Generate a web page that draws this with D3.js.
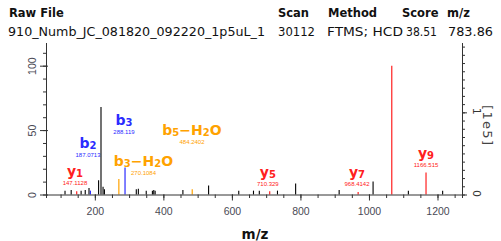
<!DOCTYPE html>
<html>
<head>
<meta charset="utf-8">
<script src="https://cdn.jsdelivr.net/npm/d3@7"></script>
<style>
  body { margin: 0; background: #fff; }
  svg { display: block; }
  .hdr { font-family: "DejaVu Sans", Verdana, sans-serif; font-size: 11.5px; fill: #111; }
  .hdr.b { font-weight: bold; }
  .tick text { font-family: "Liberation Sans", Arial, sans-serif; font-size: 10.5px; fill: #4a4a55; }
  .rlab { font-family: "DejaVu Sans", sans-serif; font-size: 11px; fill: #333; }
  .ion { font-family: "DejaVu Sans", sans-serif; font-weight: bold; }
  .mass { font-family: "Liberation Sans", Arial, sans-serif; font-size: 6px; }
</style>
</head>
<body>
<svg id="svg" width="501" height="241"></svg>
<script>
// header table
const headNames = ["Raw File", "Scan", "Method", "Score", "m/z"];
const headValues = ["910_Numb_JC_081820_092220_1p5uL_1", "30112", "FTMS; HCD", "38.51", "783.86"];

// unlabeled (black) peaks: m/z and relative abundance (%)
const otherMz  = [113, 131, 160, 172, 183, 211, 218, 224, 228, 321, 327, 350, 368, 372, 376, 457, 532, 620, 663, 680, 733, 786, 913, 1012, 1115, 1215];
const otherInt = [3, 3.5, 3, 3.5, 5, 11, 68, 6, 4, 4, 4.5, 3, 3, 3.5, 3, 3.5, 7, 3, 3, 3, 3, 8.5, 3.5, 10, 3, 3];

// base peak (red, no label)
const baseMz  = [1066.5];
const baseInt = [100];

// annotated fragment ions
const ionName   = ["y1", "b2", "b3−H2O", "b3", "b5−H2O", "y5", "y7", "y9"];
const ionType   = ["y", "b", "bw", "b", "bw", "y", "y", "y"];
const ionMz     = [147.1128, 187.0713, 270.1084, 288.119, 484.2402, 710.329, 968.4142, 1166.515];
const ionInt    = [2.5, 3, 12, 21, 4, 2.5, 2, 17];
// where each annotation sits (in m/z, % units)
const labelMz   = [142, 180, 342, 285, 483.5, 705, 965, 1166.5];
const labelInt  = [14.4, 36.1, 22.1, 53.6, 46.2, 13.6, 13.6, 28.3];

// right axis (absolute intensity, x1e5)
const rightTicks = [0, 1];

const typeColor = { y: "#ff2020", b: "#2b2bff", bw: "#ffa200" };

const svg = d3.select("#svg");

// header
const headX = [9, 278, 328, 402, 447];
svg.selectAll("text.hn").data(headNames).enter().append("text")
  .attr("class", "hdr b hn").attr("x", (d, i) => headX[i]).attr("y", 17).text(d => d);
const valX = [8, 278, 327, 406, 448];
const valLen = [257, 37, 76, 31, 45];
svg.selectAll("text.hv").data(headValues).enter().append("text")
  .attr("class", "hdr hv").attr("x", (d, i) => valX[i]).attr("y", 35.5)
  .attr("textLength", (d, i) => valLen[i]).attr("lengthAdjust", "spacingAndGlyphs")
  .style("font-size", "12px").text(d => d);

// scales
const x = d3.scaleLinear().domain([57.5, 1271.5]).range([46, 462]);
const y = d3.scaleLinear().domain([0, 118]).range([194.5, 42.5]);
const yR = d3.scaleLinear().domain([0, 1.85]).range([194.5, 42.5]);

// peaks
const g = svg.append("g");
g.selectAll("line.other").data(otherMz).enter().append("line")
  .attr("x1", d => x(d)).attr("x2", d => x(d))
  .attr("y1", y(0)).attr("y2", (d, i) => y(otherInt[i]))
  .attr("stroke", "#000").attr("stroke-width", 1.1);
g.selectAll("line.base").data(baseMz).enter().append("line")
  .attr("x1", d => x(d)).attr("x2", d => x(d))
  .attr("y1", y(0)).attr("y2", (d, i) => y(baseInt[i]))
  .attr("stroke", "#ff3030").attr("stroke-width", 1.3);
g.selectAll("line.ion").data(ionMz).enter().append("line")
  .attr("x1", d => x(d)).attr("x2", d => x(d))
  .attr("y1", y(0)).attr("y2", (d, i) => y(ionInt[i]))
  .attr("stroke", (d, i) => typeColor[ionType[i]]).attr("stroke-width", 1.2);

// axes
const axisColor = "#333";
const xMinor = d3.range(100, 1251, 50);
svg.append("g").attr("transform", `translate(0,${y(0)})`)
  .call(d3.axisBottom(x).tickValues(xMinor).tickSize(3.5).tickFormat(""))
  .call(a => a.select(".domain").attr("stroke", axisColor))
  .call(a => a.selectAll(".tick line").attr("stroke", axisColor));
svg.append("g").attr("transform", `translate(0,${y(0)})`)
  .call(d3.axisBottom(x).tickValues([200, 400, 600, 800, 1000, 1200]).tickSize(6)
    .tickSizeOuter(0).tickPadding(7).tickFormat(d3.format("d")))
  .call(a => a.select(".domain").remove())
  .call(a => a.selectAll(".tick line").attr("stroke", axisColor));

svg.append("g").attr("transform", `translate(${x.range()[0]},0)`)
  .call(d3.axisLeft(y).tickValues(d3.range(0, 111, 10)).tickSize(3).tickFormat("").tickSizeOuter(0))
  .call(a => a.select(".domain").attr("stroke", axisColor))
  .call(a => a.selectAll(".tick line").attr("stroke", axisColor));
svg.append("g").attr("transform", `translate(${x.range()[0]},0)`)
  .call(d3.axisLeft(y).tickValues([0, 50, 100]).tickSize(6))
  .call(a => a.select(".domain").remove())
  .call(a => a.selectAll(".tick line").attr("stroke", axisColor).attr("x2", 2).attr("x1", -6))
  .call(a => a.selectAll(".tick text").attr("transform", "rotate(-90)")
    .attr("x", 0).attr("y", -10).attr("dy", 0).attr("text-anchor", "middle"));

svg.append("g").attr("transform", `translate(${x.range()[1]},0)`)
  .call(d3.axisRight(yR).tickValues(d3.range(0, 1.81, 0.1)).tickSize(3).tickFormat("").tickSizeOuter(0))
  .call(a => a.select(".domain").attr("stroke", axisColor))
  .call(a => a.selectAll(".tick line").attr("stroke", axisColor));
svg.append("g").attr("transform", `translate(${x.range()[1]},0)`)
  .call(d3.axisRight(yR).tickValues(rightTicks).tickSize(5).tickFormat(""))
  .call(a => a.select(".domain").remove())
  .call(a => a.selectAll(".tick line").attr("stroke", axisColor));

// rotated right-axis tick labels
svg.selectAll("text.rlab").data(rightTicks).enter().append("text")
  .attr("class", "rlab")
  .attr("transform", d => `translate(${x.range()[1] + 11},${yR(d) - 1}) rotate(90)`)
  .attr("text-anchor", "middle").text(d => String(d));

svg.append("text").attr("transform", "translate(483,125) rotate(90)")
  .attr("text-anchor", "middle")
  .style("font-family", "'DejaVu Sans', sans-serif").style("font-size", "13px").style("fill", "#444")
  .attr("textLength", 40).text("[1e5]");

svg.append("text").attr("x", 255).attr("y", 239).attr("text-anchor", "middle")
  .style("font-family", "'DejaVu Sans', sans-serif").style("font-weight", "bold").style("font-size", "13.5px")
  .style("fill", "#111").text("m/z");

// ion annotations
const ann = svg.append("g");
ionName.forEach((name, i) => {
  const col = typeColor[ionType[i]];
  const cx = x(labelMz[i]), by = y(labelInt[i]);
  const t = ann.append("text").attr("class", "ion").attr("x", cx).attr("y", by)
    .attr("text-anchor", "middle").style("fill", col);
  name.split(/(\d+)/).filter(s => s.length).forEach(part => {
    if (/^\d+$/.test(part)) {
      t.append("tspan").style("font-size", "10px").attr("dy", 1).text(part);
    } else {
      const ts = t.append("tspan").style("font-size", "14px").text(part);
      if (t.selectAll("tspan").size() > 1) ts.attr("dy", -1);
    }
  });
  ann.append("text").attr("class", "mass").attr("x", cx).attr("y", by + 9)
    .attr("text-anchor", "middle").style("fill", col).text(String(ionMz[i]));
});
</script>
</body>
</html>
